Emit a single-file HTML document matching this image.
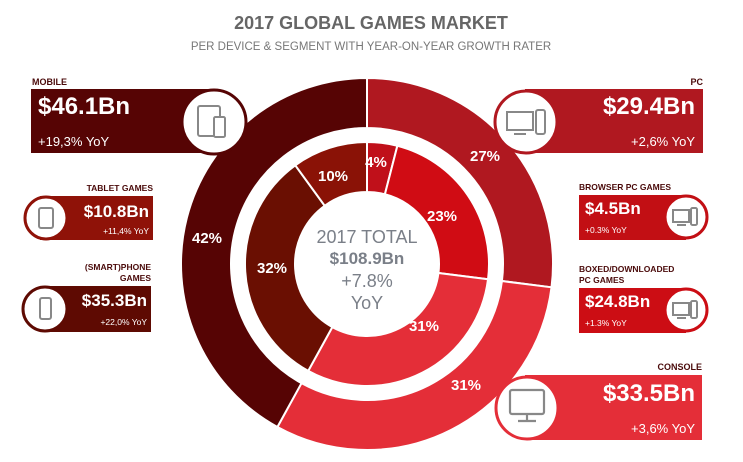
<!DOCTYPE html>
<html><head><meta charset="utf-8"><style>
html,body{margin:0;padding:0;background:#fff;width:743px;height:462px;overflow:hidden}
svg{display:block;font-family:"Liberation Sans",sans-serif}
</style></head><body>
<svg id="s" width="743" height="462" viewBox="0 0 743 462">
<g id="rings"></g>
<text x="371" y="29" text-anchor="middle" font-size="18" font-weight="bold" fill="#666">2017 GLOBAL GAMES MARKET</text>
<text x="371" y="50" text-anchor="middle" font-size="11.5" fill="#777">PER DEVICE &amp; SEGMENT WITH YEAR-ON-YEAR GROWTH RATER</text>

<g font-weight="bold" font-size="15" fill="#fff" text-anchor="middle">
<text x="207" y="243">42%</text>
<text x="485" y="161">27%</text>
<text x="466" y="390">31%</text>
<text x="333" y="181">10%</text>
<text x="376" y="167">4%</text>
<text x="442" y="221">23%</text>
<text x="272" y="273">32%</text>
<text x="424" y="331">31%</text>
</g>
<g text-anchor="middle" fill="#7a7f88">
<text x="367" y="243" font-size="18">2017 TOTAL</text>
<text x="367" y="264" font-size="17" font-weight="bold">$108.9Bn</text>
<text x="367" y="287" font-size="18">+7.8%</text>
<text x="367" y="309" font-size="18">YoY</text>
</g>

<!-- MOBILE -->
<text x="32" y="85" font-size="9" font-weight="bold" fill="#4a0a0a">MOBILE</text>
<rect x="31" y="89" width="185" height="64" fill="#560404"/>
<circle cx="214" cy="122" r="32" fill="#fff" stroke="#560404" stroke-width="3"/>
<g fill="none" stroke="#888" stroke-width="2"><rect x="198" y="106" width="22" height="30" rx="2"/><rect x="214" y="117" width="11" height="20" rx="1.5" fill="#fff"/></g>
<text x="38" y="114" font-size="24" font-weight="bold" fill="#fff">$46.1Bn</text>
<text x="38" y="146" font-size="13" fill="#fff">+19,3% YoY</text>

<!-- TABLET -->
<text x="153" y="191" text-anchor="end" font-size="8.5" font-weight="bold" fill="#4a0a0a">TABLET GAMES</text>
<rect x="40" y="196" width="113" height="44" fill="#8f1208"/>
<circle cx="46" cy="218" r="21" fill="#fff" stroke="#8f1208" stroke-width="3"/>
<rect x="39" y="208" width="14" height="20" rx="2" fill="none" stroke="#888" stroke-width="2"/>
<text x="149" y="217" text-anchor="end" font-size="17" font-weight="bold" fill="#fff">$10.8Bn</text>
<text x="149" y="234" text-anchor="end" font-size="8.5" fill="#fff">+11,4% YoY</text>

<!-- PHONE -->
<text x="151" y="270" text-anchor="end" font-size="8.5" font-weight="bold" fill="#4a0a0a">(SMART)PHONE</text>
<text x="151" y="281" text-anchor="end" font-size="8.5" font-weight="bold" fill="#4a0a0a">GAMES</text>
<rect x="40" y="286" width="111" height="46" fill="#5e0a02"/>
<circle cx="45" cy="309" r="22" fill="#fff" stroke="#5e0a02" stroke-width="3"/>
<rect x="40" y="298" width="11" height="21" rx="2" fill="none" stroke="#888" stroke-width="2"/>
<text x="147" y="306" text-anchor="end" font-size="17" font-weight="bold" fill="#fff">$35.3Bn</text>
<text x="147" y="325" text-anchor="end" font-size="8.5" fill="#fff">+22,0% YoY</text>

<!-- PC -->
<text x="703" y="85" text-anchor="end" font-size="9" font-weight="bold" fill="#4a0a0a">PC</text>
<rect x="525" y="89" width="178" height="64" fill="#b01820"/>
<circle cx="526" cy="122" r="31" fill="#fff" stroke="#b01820" stroke-width="3"/>
<g fill="none" stroke="#888" stroke-width="2"><rect x="507" y="112" width="26" height="18"/><line x1="514" y1="134" x2="526" y2="134"/><rect x="536" y="110" width="9" height="24" rx="2"/></g>
<text x="695" y="114" text-anchor="end" font-size="24" font-weight="bold" fill="#fff">$29.4Bn</text>
<text x="695" y="146" text-anchor="end" font-size="13" fill="#fff">+2,6% YoY</text>

<!-- BROWSER -->
<text x="579" y="190" font-size="8.5" font-weight="bold" fill="#4a0a0a">BROWSER PC GAMES</text>
<rect x="579" y="195" width="107" height="45" fill="#c20f14"/>
<circle cx="686" cy="217" r="21" fill="#fff" stroke="#c20f14" stroke-width="3"/>
<g fill="none" stroke="#888" stroke-width="2"><rect x="673" y="210" width="16" height="12"/><line x1="677" y1="225" x2="686" y2="225"/><rect x="691" y="208" width="6" height="17" rx="1.5"/></g>
<text x="585" y="214" font-size="17" font-weight="bold" fill="#fff">$4.5Bn</text>
<text x="585" y="233" font-size="8.5" fill="#fff">+0.3% YoY</text>

<!-- BOXED -->
<text x="579" y="272" font-size="8.5" font-weight="bold" fill="#4a0a0a">BOXED/DOWNLOADED</text>
<text x="579" y="283" font-size="8.5" font-weight="bold" fill="#4a0a0a">PC GAMES</text>
<rect x="579" y="288" width="107" height="45" fill="#cc0d14"/>
<circle cx="686" cy="310" r="21" fill="#fff" stroke="#cc0d14" stroke-width="3"/>
<g fill="none" stroke="#888" stroke-width="2"><rect x="673" y="303" width="16" height="12"/><line x1="677" y1="318" x2="686" y2="318"/><rect x="691" y="301" width="6" height="17" rx="1.5"/></g>
<text x="585" y="307" font-size="17" font-weight="bold" fill="#fff">$24.8Bn</text>
<text x="585" y="326" font-size="8.5" fill="#fff">+1.3% YoY</text>

<!-- CONSOLE -->
<text x="702" y="370" text-anchor="end" font-size="9" font-weight="bold" fill="#4a0a0a">CONSOLE</text>
<rect x="525" y="375" width="177" height="65" fill="#e42e38"/>
<circle cx="527" cy="408" r="31" fill="#fff" stroke="#e42e38" stroke-width="3"/>
<g fill="none" stroke="#888" stroke-width="2.2"><rect x="510" y="390" width="34" height="24" rx="2"/><line x1="527" y1="414" x2="527" y2="420"/><line x1="518" y1="421" x2="536" y2="421"/></g>
<text x="695" y="401" text-anchor="end" font-size="24" font-weight="bold" fill="#fff">$33.5Bn</text>
<text x="695" y="433" text-anchor="end" font-size="13" fill="#fff">+3,6% YoY</text>
</svg>
<script>
(function(){
var cx=367,cy=264,g=document.getElementById('rings');
function pt(r,a){var t=(a-90)*Math.PI/180;return [cx+r*Math.cos(t),cy+r*Math.sin(t)];}
function arc(r0,r1,a0,a1,col){
 var p1=pt(r1,a0),p2=pt(r1,a1),p3=pt(r0,a1),p4=pt(r0,a0),l=(a1-a0)>180?1:0;
 var d='M'+p1+' A'+r1+','+r1+' 0 '+l+' 1 '+p2+' L'+p3+' A'+r0+','+r0+' 0 '+l+' 0 '+p4+'Z';
 var e=document.createElementNS('http://www.w3.org/2000/svg','path');
 e.setAttribute('d',d);e.setAttribute('fill',col);e.setAttribute('stroke','#fff');e.setAttribute('stroke-width','2');
 g.appendChild(e);}
arc(136,186,0,97.2,'#b01820');
arc(136,186,97.2,208.8,'#e42e38');
arc(136,186,208.8,360,'#560404');
arc(72,122,0,14.4,'#c0101a');
arc(72,122,14.4,97.2,'#d00c14');
arc(72,122,97.2,208.8,'#e42e38');
arc(72,122,208.8,324,'#6a0f02');
arc(72,122,324,360,'#8a1206');
})();
</script>
</body></html>
